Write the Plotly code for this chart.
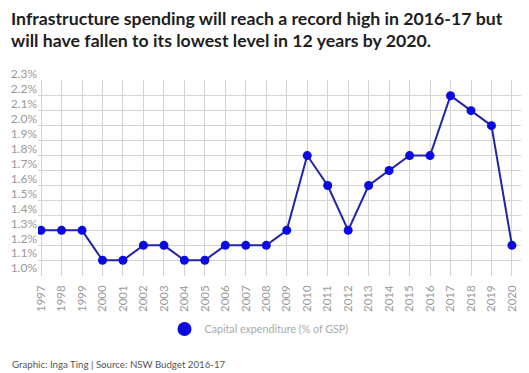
import plotly.graph_objects as go

years = list(range(1997, 2021))
capex = [1.3, 1.3, 1.3, 1.1, 1.1, 1.2, 1.2, 1.1, 1.1, 1.2, 1.2, 1.2, 1.3,
         1.8, 1.6, 1.3, 1.6, 1.7, 1.8, 1.8, 2.2, 2.1, 2.0, 1.2]
y_ticks = [round(1.0 + 0.1 * i, 1) for i in range(14)]
y_tick_labels = [f"{v:.1f}%" for v in y_ticks]
series_name = "Capital expenditure (% of GSP)"
title_lines = ["Infrastructure spending will reach a record high in 2016-17 but",
               "will have fallen to its lowest level in 12 years by 2020."]
footer = "Graphic: Inga Ting | Source: NSW Budget 2016-17"

# page body has an 8px margin, so the figure is drawn 8px smaller
W, H = 521, 365
L, R, T, B = 30, 6, 72, 97
PW, PH = W - L - R, H - T - B


def px_x(x):
    return (x - L) / PW


def px_y(y):
    return (H - B - y) / PH


fig = go.Figure()
fig.add_trace(go.Scatter(
    x=years, y=capex, mode="lines+markers", showlegend=False,
    line=dict(color="#2424a8", width=2),
    marker=dict(color="#0a0ae0", size=9),
    name=series_name,
))
fig.add_trace(go.Scatter(
    x=[None], y=[None], mode="markers", name=series_name,
    marker=dict(color="#0a0ae0", size=14),
))

annotations = []
for i, line in enumerate(title_lines):
    annotations.append(dict(
        text=f"<b>{line}</b>", xref="paper", yref="paper", showarrow=False,
        x=px_x(1), xanchor="left", y=px_y(11 + 22 * i), yanchor="middle",
        font=dict(size=17.7, color="#1e1e1e", family="Lato"),
    ))
annotations.append(dict(
    text=footer, xref="paper", yref="paper", showarrow=False,
    x=px_x(2), xanchor="left", y=px_y(356), yanchor="middle",
    font=dict(size=9.7, color="#555555", family="Lato"),
))

fig.update_layout(
    template="none",
    width=W, height=H,
    margin=dict(l=L, r=R, t=T, b=B),
    paper_bgcolor="white", plot_bgcolor="white",
    font=dict(family="Lato", color="#999999"),
    xaxis=dict(
        range=[1996.85, 2020.54], tickmode="array", tickvals=years,
        ticktext=[str(y) for y in years], tickangle=-90,
        showgrid=True, gridcolor="#d4d4d4", gridwidth=1,
        zeroline=False, showline=False, ticks="", automargin=False,
        ticklabelstandoff=6,
        tickfont=dict(size=11.5, color="#999999", family="Lato"),
    ),
    yaxis=dict(
        range=[0.995, 2.305], tickmode="array", tickvals=y_ticks,
        ticktext=y_tick_labels,
        showgrid=True, gridcolor="#d4d4d4", gridwidth=1,
        zeroline=False, showline=False, ticks="", automargin=False,
        ticklabelshift=-7,
        tickfont=dict(size=12, color="#999999", family="Lato"),
    ),
    legend=dict(
        orientation="h", xref="container", yref="container",
        x=251 / W, xanchor="center", y=1 - 321 / H, yanchor="middle",
        font=dict(size=10.7, color="#aaaaaa", family="Lato"),
        bgcolor="rgba(0,0,0,0)",
    ),
    annotations=annotations,
)

fig.write_html("out.html")
